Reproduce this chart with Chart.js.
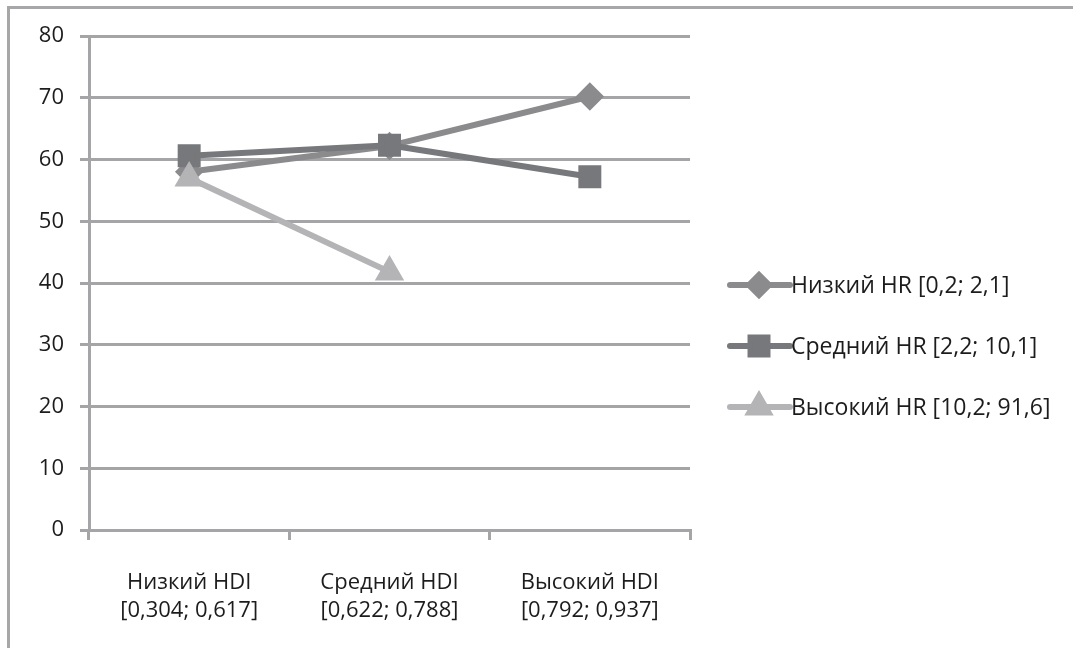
<!DOCTYPE html>
<html>
<head>
<meta charset="utf-8">
<script src="https://cdn.jsdelivr.net/npm/chart.js@4"></script>
<style>
  html, body { margin: 0; padding: 0; background: #ffffff; }
  #frame { position: absolute; left: 7px; top: 6px; width: 1200px; height: 800px;
           border-top: 3px solid #a7a7a9; border-left: 3px solid #a7a7a9; }
  #wrap { position: absolute; left: 0; top: 0; width: 1073px; height: 648px; }
</style>
</head>
<body>
<div id="frame"></div>
<div id="wrap"><canvas id="c" width="1073" height="648"></canvas></div>
<script>
const categories = [
  ["Низкий HDI", "[0,304; 0,617]"],
  ["Средний HDI", "[0,622; 0,788]"],
  ["Высокий HDI", "[0,792; 0,937]"]
];
const seriesNames = ["Низкий HR [0,2; 2,1]", "Средний HR [2,2; 10,1]", "Высокий HR [10,2; 91,6]"];
const lowHR = [58.0, 62.2, 70.2];
const midHR = [60.6, 62.3, 57.2];
const highHR = [57.0, 41.8, null];
const yTicks = [0, 10, 20, 30, 40, 50, 60, 70, 80];

const FONT = "'Open Sans', 'Noto Sans', sans-serif";
const GRID = '#a5a5a7';
const TEXT = '#1c1c1c';

const legendPlugin = {
  id: 'sideLegend',
  afterDraw(chart) {
    const ctx = chart.ctx;
    const x0 = 730, x1 = 790, mx = 759;
    const ys = [285, 346, 407];
    ctx.save();
    chart.data.datasets.forEach((ds, i) => {
      const y = ys[i];
      ctx.strokeStyle = ds.borderColor;
      ctx.lineWidth = ds.borderWidth;
      ctx.lineCap = 'round';
      ctx.beginPath();
      ctx.moveTo(x0, y);
      ctx.lineTo(x1, y);
      ctx.stroke();
      ctx.fillStyle = ds.pointBackgroundColor;
      ctx.strokeStyle = ds.pointBorderColor;
      Chart.helpers.drawPoint(ctx, {
        pointStyle: ds.pointStyle, radius: ds.pointRadius, rotation: 0, borderWidth: 1
      }, mx, y);
      ctx.fillStyle = TEXT;
      ctx.font = "23px " + FONT;
      ctx.textBaseline = 'middle';
      ctx.textAlign = 'left';
      ctx.fillText(ds.label, 791, y + 1);
    });
    ctx.restore();
  }
};

new Chart(document.getElementById('c'), {
  type: 'line',
  data: {
    labels: categories,
    datasets: [
      { label: seriesNames[0], data: lowHR, order: 3,
        borderColor: '#8b8b8e', backgroundColor: '#8b8b8e', borderWidth: 6,
        pointStyle: 'rectRot', pointRadius: 10,
        pointBackgroundColor: '#8b8b8e', pointBorderColor: '#8b8b8e' },
      { label: seriesNames[1], data: midHR, order: 2,
        borderColor: '#77787b', backgroundColor: '#77787b', borderWidth: 6,
        pointStyle: 'rect', pointRadius: 12,
        pointBackgroundColor: '#77787b', pointBorderColor: '#77787b' },
      { label: seriesNames[2], data: highHR, order: 1,
        borderColor: '#b4b4b6', backgroundColor: '#b4b4b6', borderWidth: 6,
        pointStyle: 'triangle', pointRadius: 11,
        pointBackgroundColor: '#b4b4b6', pointBorderColor: '#b4b4b6' }
    ]
  },
  options: {
    responsive: false,
    animation: false,
    devicePixelRatio: 1,
    layout: { padding: { left: 0, top: 36, right: 383, bottom: 0 } },
    plugins: { legend: { display: false }, tooltip: { enabled: false } },
    elements: { line: { tension: 0, borderCapStyle: 'round', borderJoinStyle: 'round' },
                point: { borderWidth: 1, hitRadius: 0 } },
    scales: {
      x: {
        type: 'category',
        offset: true,
        afterFit: (s) => { s.height = 118; },
        grid: { offset: true, drawOnChartArea: false, drawTicks: true, tickLength: 10,
                color: GRID, lineWidth: 3 },
        border: { display: true, color: GRID, width: 3 },
        ticks: { color: TEXT, font: { family: FONT, size: 22, lineHeight: 1.3 }, padding: 28,
                 maxRotation: 0, autoSkip: false }
      },
      y: {
        min: 0, max: 80,
        afterFit: (s) => { s.width = 89; },
        afterBuildTicks: (s) => { s.ticks = yTicks.map(v => ({ value: v })); },
        grid: { color: GRID, lineWidth: 3, drawTicks: true, tickLength: 9 },
        border: { display: true, color: GRID, width: 3 },
        ticks: { color: TEXT, font: { family: FONT, size: 22 }, padding: 16 }
      }
    }
  },
  plugins: [legendPlugin]
});
</script>
</body>
</html>
